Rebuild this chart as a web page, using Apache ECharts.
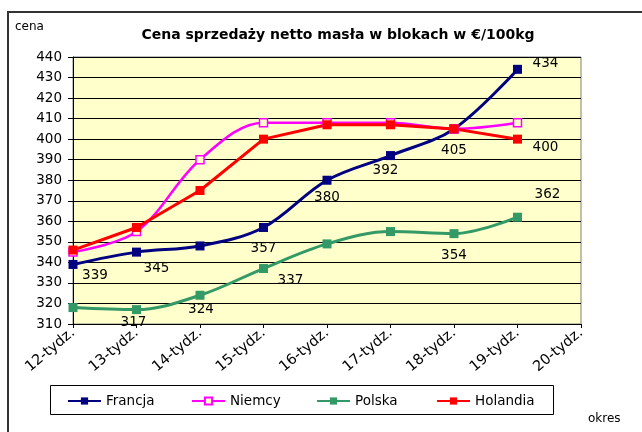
<!DOCTYPE html>
<html>
<head>
<meta charset="utf-8">
<script src="https://cdn.jsdelivr.net/npm/echarts@6/dist/echarts.min.js"></script>
<style>
  html, body { margin: 0; padding: 0; background: #fff; }
  #chart { width: 642px; height: 432px; }
</style>
</head>
<body>
<div id="chart"></div>
<script>
// dane z wykresu
const okresy = ['12-tydz.', '13-tydz.', '14-tydz.', '15-tydz.', '16-tydz.', '17-tydz.', '18-tydz.', '19-tydz.', '20-tydz.'];
const kraje = ['Francja', 'Niemcy', 'Polska', 'Holandia'];
const francja = [339, 345, 348, 357, 380, 392, 405, 434];
const niemcy = [345, 355, 390, 408, 408, 408, 405, 408];
const polska = [318, 317, 324, 337, 349, 355, 354, 362];
const holandia = [346, 357, 375, 400, 407, 407, 405, 400];

// które punkty mają etykietę i gdzie ją przesunąć
const labelOffsets = {
  Francja: { 0: [22, 11], 1: [20, 16], 3: [0, 21], 4: [0, 17], 5: [-5, 15], 6: [0, 22], 7: [28, -6] },
  Niemcy: {},
  Polska: { 1: [-3, 13], 2: [1, 14], 3: [27, 12], 6: [0, 22], 7: [30, -23] },
  Holandia: { 7: [28, 8] }
};

// pozycje kolumn legendy (jak w Excelu - stałe szerokości)
const legendLefts = [67, 191, 316, 436];

const FONT = 'DejaVu Sans';

function buildData(name, values) {
  const offs = labelOffsets[name];
  return values.map((v, i) => {
    if (!offs[i]) return v;
    return {
      value: v,
      label: { show: true, position: 'inside', offset: offs[i] }
    };
  });
}

function makeSeries(name, values, color, opts) {
  return Object.assign({
    name: name,
    type: 'line',
    data: buildData(name, values),
    symbol: 'rect',
    symbolSize: 9,
    smooth: 0.35,
    color: color,
    lineStyle: { color: color, width: 3 },
    itemStyle: { color: color },
    label: { show: false, color: '#000', fontFamily: FONT, fontSize: 13.5 },
    emphasis: { disabled: true },
    z: 2
  }, opts || {});
}

const chart = echarts.init(document.getElementById('chart'), null, { renderer: 'canvas' });

chart.setOption({
  animation: false,
  backgroundColor: '#fff',
  textStyle: { fontFamily: FONT },
  title: {
    text: 'Cena sprzedaży netto masła w blokach w €/100kg',
    left: 333,
    textAlign: 'center',
    top: 23,
    textStyle: { fontFamily: FONT, fontSize: 14, fontWeight: 'bold', color: '#000' }
  },
  graphic: [
    { type: 'rect', shape: { x: 8, y: 12, width: 800, height: 600 },
      style: { fill: 'none', stroke: '#333', lineWidth: 2 }, silent: true, z: 0 },
    { type: 'rect', shape: { x: 50.5, y: 385.5, width: 503, height: 29 },
      style: { fill: '#fff', stroke: '#000', lineWidth: 1 }, silent: true, z: 0 },
    { type: 'text', left: 15, top: 21,
      style: { text: 'cena', fontFamily: FONT, fontSize: 12, fill: '#000' } },
    { type: 'text', left: 588, top: 413,
      style: { text: 'okres', fontFamily: FONT, fontSize: 12, fill: '#000' } }
  ],
  legend: kraje.map((k, i) => ({
    left: legendLefts[i],
    top: 385,
    padding: [9, 0, 8, 0],
    itemWidth: 33,
    itemHeight: 9,
    textStyle: { fontFamily: FONT, fontSize: 13.5, color: '#000' },
    data: [k],
    z: 3
  })),
  grid: {
    left: 73, right: 61, top: 57, bottom: 108,
    show: true,
    backgroundColor: '#FFFFCC',
    borderColor: '#808080',
    borderWidth: 1
  },
  xAxis: {
    type: 'category',
    data: okresy,
    boundaryGap: false,
    axisLine: { lineStyle: { color: '#000', width: 1 } },
    axisTick: { show: true, length: 4, alignWithLabel: true, lineStyle: { color: '#000' } },
    axisLabel: {
      interval: 0, rotate: 40, margin: 7,
      fontFamily: FONT, fontSize: 14.5, color: '#000'
    },
    splitLine: { show: false }
  },
  yAxis: {
    type: 'value',
    min: 310,
    max: 440,
    interval: 10,
    axisLine: { show: true, lineStyle: { color: '#000', width: 1 } },
    axisTick: { show: true, length: 5, lineStyle: { color: '#000' } },
    axisLabel: { margin: 11, fontFamily: FONT, fontSize: 13.5, color: '#000' },
    splitLine: { show: true, lineStyle: { color: '#000', width: 1 } }
  },
  series: [
    makeSeries('Francja', francja, '#000080'),
    makeSeries('Niemcy', niemcy, '#FF00FF', {
      symbolSize: 8,
      lineStyle: { color: '#FF00FF', width: 2.5 },
      itemStyle: { color: '#FFFFCC', borderColor: '#FF00FF', borderWidth: 1.5 }
    }),
    makeSeries('Polska', polska, '#339966'),
    makeSeries('Holandia', holandia, '#FF0000', { smooth: false })
  ]
});
</script>
</body>
</html>
